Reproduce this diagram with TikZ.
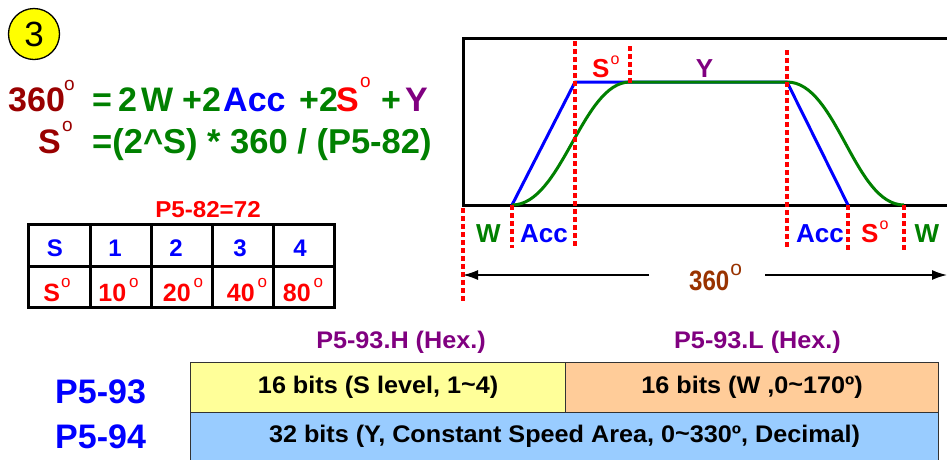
\documentclass[tikz,border=0pt]{standalone}
\usepackage{fontspec}
\setmainfont{Liberation Sans}
\newfontfamily\widesans[FakeStretch=1.05]{Liberation Sans}
\usetikzlibrary{arrows.meta}
\definecolor{dkred}{RGB}{153,0,0}
\definecolor{grn}{RGB}{0,128,0}
\definecolor{blu}{RGB}{0,0,255}
\definecolor{rd}{RGB}{255,0,0}
\definecolor{purp}{RGB}{128,0,128}
\definecolor{brn}{RGB}{153,51,0}
\definecolor{ylw}{RGB}{255,255,0}
\definecolor{boxy}{RGB}{255,255,153}
\definecolor{boxo}{RGB}{255,204,153}
\definecolor{boxb}{RGB}{153,204,255}
\newcommand\fsz[1]{\fontsize{#1}{#1}\selectfont}
\newcommand\degO[2]{\raisebox{#2pt}{\fsz{#1}\mdseries o}}
\begin{document}
\begin{tikzpicture}[x=1pt,y=-1pt,
  txt/.style={inner sep=0pt, anchor=base west, font=\bfseries},
  ctxt/.style={inner sep=0pt, anchor=base, font=\bfseries},
  reddot/.style={draw=rd, line width=3.2pt, dash pattern=on 5pt off 3pt},
  thick3/.style={line width=3pt},
  cell/.style={draw=black!80, line width=1.2pt, inner sep=0pt, anchor=north west, font=\widesans\bfseries\fsz{24}},
  dimarrow/.style={line width=1.5pt, -{Latex[length=15pt,width=10pt]}}
]
\clip (0,0) rectangle (947,459);
\fill[white] (0,0) rectangle (947,459);

% circled 3
\node (c3) [circle, draw=black, line width=1.3pt, fill=ylw, minimum size=51pt, inner sep=0pt, font=\fsz{35}] at (34,34) {3};

% line 1
\node (l1a) [txt, text=dkred, font=\bfseries\fsz{34}] at (8,111) {360};
\node (l1b) [txt, text=dkred, font=\fsz{19}] at (64,90) {o};
\node (l1c) [txt, text=grn, font=\bfseries\fsz{34}] at (92,111) {=};
\node (l1d) [txt, text=grn, font=\bfseries\fsz{34}] at (118,111) {2};
\node (l1e) [txt, text=grn, font=\bfseries\fsz{34}] at (141,111) {W};
\node (l1f) [txt, text=grn, font=\bfseries\fsz{34}] at (182,111) {+2};
\node (l1g) [txt, text=blu, font=\bfseries\fsz{34}] at (223,111) {Acc};
\node (l1h) [txt, text=grn, font=\bfseries\fsz{34}] at (299,111) {+2};
\node (l1i) [txt, text=rd, font=\bfseries\fsz{34}] at (336,111) {S};
\node (l1j) [txt, text=rd, font=\fsz{19}] at (360,87) {o};
\node (l1k) [txt, text=grn, font=\bfseries\fsz{34}] at (381,111) {+};
\node (l1l) [txt, text=purp, font=\bfseries\fsz{34}] at (405,111) {Y};

% line 2
\node (l2a) [txt, text=dkred, font=\bfseries\fsz{34}] at (38,153) {S};
\node (l2b) [txt, text=dkred, font=\fsz{19}] at (62,131) {o};
\node (l2c) [txt, text=grn, font=\bfseries\fsz{34.5}] at (92,153) {=(2\^{}S) * 360 / (P5-82)};

% table
\node (tt) [ctxt, text=rd, font=\widesans\bfseries\fsz{23}] at (208,217) {P5-82=72};
\draw[thick3] (28,224) rectangle (334,307);
\draw[thick3] (28,266) -- (334,266);
\foreach \xx in {90,151,212,273} \draw[thick3] (\xx,224) -- (\xx,307);
\node (t11) [ctxt, text=blu, font=\bfseries\fsz{24}] at (55,256) {S};
\node (t12) [ctxt, text=blu, font=\bfseries\fsz{24}] at (115,256) {1};
\node (t13) [ctxt, text=blu, font=\bfseries\fsz{24}] at (176,256) {2};
\node (t14) [ctxt, text=blu, font=\bfseries\fsz{24}] at (240,256) {3};
\node (t15) [ctxt, text=blu, font=\bfseries\fsz{24}] at (300,256) {4};
\node (t21) [ctxt, text=rd, font=\bfseries\fsz{25}] at (57,301) {S\hspace{1pt}\degO{17}{14}};
\node (t22) [ctxt, text=rd, font=\bfseries\fsz{25}] at (118.5,301) {10\hspace{3pt}\degO{17}{14}};
\node (t23) [ctxt, text=rd, font=\bfseries\fsz{25}] at (183,301) {20\hspace{3pt}\degO{17}{14}};
\node (t24) [ctxt, text=rd, font=\bfseries\fsz{25}] at (247,301) {40\hspace{3pt}\degO{17}{14}};
\node (t25) [ctxt, text=rd, font=\bfseries\fsz{25}] at (303,301) {80\hspace{3pt}\degO{17}{14}};

% graph frame
\coordinate (fTR) at (947,38.5);
\coordinate (fTL) at (463,38.5);
\coordinate (fBL) at (463,205);
\coordinate (fBR) at (947,205);
\draw[thick3] (fTR) -- (fTL) -- (fBL) -- (fBR);

% profile points
\coordinate (p0) at (512,205);
\coordinate (p1) at (575,82);
\coordinate (p2) at (630,82);
\coordinate (p3) at (787,82);
\coordinate (p4) at (848,205);
\coordinate (p5) at (904,205);
\draw[blu, line width=3pt, line join=round] (p0) -- (p1) -- (p3) -- (p4);
\draw[grn, line width=3pt] (p0) .. controls (562,205) and (582,82) .. (p2) -- (p3) .. controls (837,82) and (854,205) .. (p5);

% red dotted markers
\draw[reddot] (463,208) -- (463,301);
\draw[reddot] (512,205) -- (512,248);
\draw[reddot] (575,41) -- (575,248);
\draw[reddot] (630,46) -- (630,84);
\draw[reddot] (787,50) -- (787,248);
\draw[reddot] (848,205) -- (848,250);
\draw[reddot] (904,205) -- (904,250);

% graph labels
\node (gS) [txt, text=rd, font=\bfseries\fsz{26}] at (592,77) {S\hspace{1pt}\degO{16}{13}};
\node (gY) [ctxt, text=purp, font=\bfseries\fsz{26}] at (704.5,77) {Y};
\node (bW1) [ctxt, text=grn, font=\bfseries\fsz{26}] at (488.5,242) {W};
\node (bA1) [ctxt, text=blu, font=\bfseries\fsz{26}] at (544,242) {Acc};
\node (bA2) [ctxt, text=blu, font=\bfseries\fsz{26}] at (820,242) {Acc};
\node (bS) [txt, text=rd, font=\bfseries\fsz{26}] at (861,242) {S\hspace{1pt}\degO{16}{13}};
\node (bW2) [ctxt, text=grn, font=\bfseries\fsz{26}] at (927,242) {W};

% 360 dimension
\node (d360) [txt, text=brn, font=\bfseries\fsz{28}] at (689,290) {\scalebox{0.86}[1]{360}\hspace{1pt}\degO{21}{15}};
\coordinate (aL) at (463,275);
\coordinate (aR) at (947,275);
\coordinate (gL) at (649,275);
\coordinate (gR) at (765,275);
\draw[dimarrow] (gL) -- (aL);
\draw[dimarrow] (gR) -- (aR);

% bottom register layout
\node (hH) [ctxt, text=purp, font=\widesans\bfseries\fsz{24}] at (401,348) {P5-93.H (Hex.)};
\node (hL) [ctxt, text=purp, font=\widesans\bfseries\fsz{24}] at (757.5,348) {P5-93.L (Hex.)};
\node (r93) [txt, text=blu, font=\bfseries\fsz{34}] at (55,403) {P5-93};
\node (r94) [txt, text=blu, font=\bfseries\fsz{34}] at (55,448) {P5-94};
\node (bh) [cell, fill=boxy, minimum width=375pt, minimum height=50pt] at (190,362) {16 bits (S level, 1\raisebox{1pt}{\textasciitilde}4)};
\node (bl) [cell, fill=boxo, minimum width=373pt, minimum height=50pt] at (565,362) {16 bits (W ,0\raisebox{1pt}{\textasciitilde}170º)};
\node (bb) [cell, fill=boxb, minimum width=748pt, minimum height=48pt] at (190,412) {32 bits (Y, Constant Speed Area, 0\raisebox{1pt}{\textasciitilde}330º, Decimal)};
\end{tikzpicture}
\end{document}
